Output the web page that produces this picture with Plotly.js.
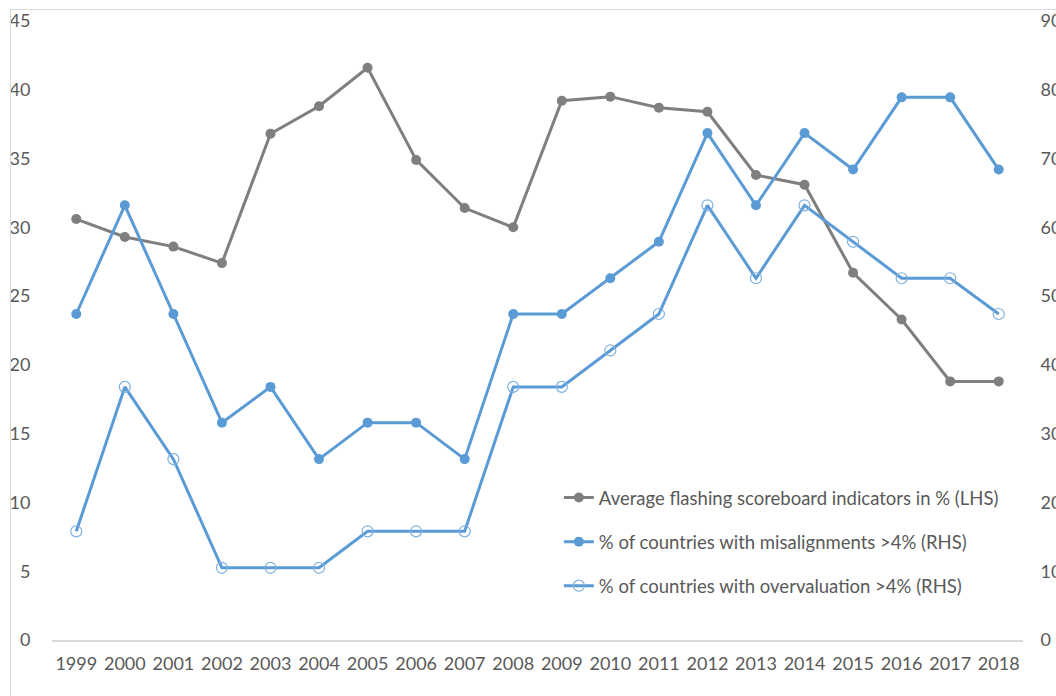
<!DOCTYPE html>
<html>
<head>
<meta charset="utf-8">
<script src="https://cdn.plot.ly/plotly-3.0.1.min.js"></script>
<style>
  html, body { margin: 0; padding: 0; background: #fff; }
  #wrap { position: relative; width: 1056px; height: 696px; overflow: hidden; }
  #chart { position: absolute; left: 0; top: 0; width: 1056px; height: 696px; }
  #frame { position: absolute; left: 10px; top: 9px; width: 1100px; height: 720px;
           border-left: 1px solid #d9d9d9; border-top: 1px solid #d9d9d9; pointer-events: none; }
</style>
</head>
<body>
<div id="wrap">
  <div id="chart"></div>
  <div id="frame"></div>
</div>
<script>
const years = ["1999","2000","2001","2002","2003","2004","2005","2006","2007","2008",
               "2009","2010","2011","2012","2013","2014","2015","2016","2017","2018"];
const flashing = [30.6, 29.3, 28.6, 27.4, 36.8, 38.8, 41.6, 34.9, 31.4, 30.0,
                  39.2, 39.5, 38.7, 38.4, 33.8, 33.1, 26.7, 23.3, 18.8, 18.8];
const misalign = [47.4, 63.2, 47.4, 31.6, 36.8, 26.3, 31.6, 31.6, 26.3, 47.4,
                  47.4, 52.6, 57.9, 73.7, 63.2, 73.7, 68.4, 78.9, 78.9, 68.4];
const overval = [15.8, 36.8, 26.3, 10.5, 10.5, 10.5, 15.8, 15.8, 15.8, 36.8,
                 36.8, 42.1, 47.4, 63.2, 52.6, 63.2, 57.9, 52.6, 52.6, 47.4];
const names = ["Average flashing scoreboard indicators in % (LHS)",
               "% of countries with misalignments >4% (RHS)",
               "% of countries with overvaluation >4% (RHS)"];

const gray = "#7f7f7f", blue = "#5b9bd5", txt = "#595959";
const fontFam = "Lato, 'Open Sans', sans-serif";

const traces = [
  { x: years, y: flashing, name: names[0], type: "scatter", mode: "lines+markers",
    line: { color: gray, width: 3 }, marker: { color: gray, size: 10 },
    legendgroup: "a", yaxis: "y" },
  { x: years, y: misalign, name: names[1], type: "scatter", mode: "lines+markers",
    line: { color: blue, width: 3 }, marker: { color: blue, size: 10 },
    legendgroup: "b", yaxis: "y2" },
  { x: years, y: overval, name: names[2], type: "scatter", mode: "lines+markers",
    line: { color: blue, width: 3 },
    marker: { color: "rgba(0,0,0,0)", size: 11, symbol: "circle", line: { color: "#7fb0de", width: 1.2 } },
    legendgroup: "c", yaxis: "y2" }
];

const layout = {
  width: 1056, height: 696,
  margin: { l: 52, r: 33, t: 21, b: 56 },
  paper_bgcolor: "rgba(0,0,0,0)", plot_bgcolor: "rgba(0,0,0,0)",
  font: { family: fontFam, size: 18, color: txt },
  showlegend: true,
  legend: { x: 0.522, y: 0.26, xanchor: "left", yanchor: "top",
            bgcolor: "rgba(0,0,0,0)", font: { size: 18.5, color: txt, family: fontFam },
            traceorder: "grouped", tracegroupgap: 17 },
  xaxis: { type: "category", range: [-0.5, 19.5], showgrid: false, zeroline: false,
           showline: true, linecolor: "#d9d9d9", linewidth: 1.5,
           ticks: "outside", ticklen: 7, tickcolor: "rgba(0,0,0,0)",
           tickfont: { size: 18, color: txt } },
  yaxis: { range: [0, 45], dtick: 5, showgrid: false, zeroline: false, showline: false,
           ticks: "outside", ticklen: 17, tickcolor: "rgba(0,0,0,0)",
           tickfont: { size: 18, color: txt } },
  yaxis2: { range: [0, 90], dtick: 10, overlaying: "y", side: "right",
            showgrid: false, zeroline: false, showline: false,
            ticks: "outside", ticklen: 13, tickcolor: "rgba(0,0,0,0)",
            tickfont: { size: 18, color: txt } }
};

Plotly.newPlot("chart", traces, layout, { displayModeBar: false, staticPlot: true });
</script>
</body>
</html>
